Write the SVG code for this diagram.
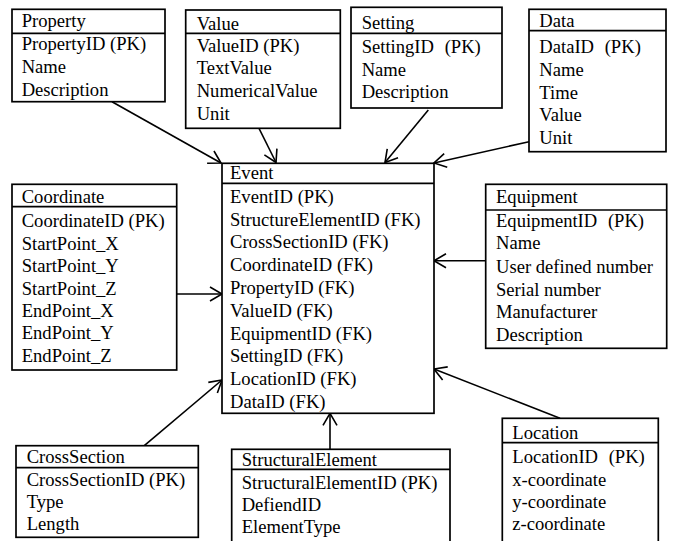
<svg xmlns="http://www.w3.org/2000/svg" width="678" height="541" viewBox="0 0 678 541">
  <style>
    .box { fill: #ffffff; stroke: #000000; stroke-width: 1.7; }
    .link { stroke: #000000; stroke-width: 1.6; fill: none; marker-end: url(#open); }
  </style>
  <defs>
    <marker id="open" markerUnits="userSpaceOnUse" markerWidth="20" markerHeight="20" refX="0" refY="0" orient="auto" overflow="visible">
      <path d="M-12,-7 L0,0 L-12,7" fill="none" stroke="#000000" stroke-width="1.6"/>
    </marker>
  </defs>

  <rect width="678" height="541" fill="#ffffff"/>

  <!-- relationships: every foreign table points at Event -->
  <g id="connectors">
    <line class="link" x1="112" y1="101.7" x2="221" y2="163"/>
    <line class="link" x1="259" y1="128.3" x2="276" y2="162.5"/>
    <line class="link" x1="428.3" y1="110" x2="385" y2="162.5"/>
    <line class="link" x1="529" y1="141.7" x2="434" y2="163"/>
    <line class="link" x1="176.7" y1="294" x2="222" y2="294"/>
    <line class="link" x1="485.7" y1="260.7" x2="434" y2="260.7"/>
    <line class="link" x1="144.3" y1="445.7" x2="222" y2="380"/>
    <line class="link" x1="330" y1="449" x2="330" y2="413.3"/>
    <line class="link" x1="560" y1="418.3" x2="434" y2="369"/>
  </g>

  <g id="property">
    <rect class="box" x="12" y="9.3" width="153" height="92.4"/>
    <line class="box" x1="12" y1="33.3" x2="165" y2="33.3"/>
    <text style="font-family:'Liberation Serif',serif;font-size:18.6px" x="21.7" y="27.3">Property</text>
    <text style="font-family:'Liberation Serif',serif;font-size:18.6px" x="21.7" y="50">PropertyID (PK)</text>
    <text style="font-family:'Liberation Serif',serif;font-size:18.6px" x="21.7" y="73">Name</text>
    <text style="font-family:'Liberation Serif',serif;font-size:18.6px" x="21.7" y="96">Description</text>
  </g>

  <g id="value">
    <rect class="box" x="185.7" y="10" width="154.6" height="118.3"/>
    <line class="box" x1="185.7" y1="33.3" x2="340.3" y2="33.3"/>
    <text style="font-family:'Liberation Serif',serif;font-size:18.6px" x="196.7" y="29.5">Value</text>
    <text style="font-family:'Liberation Serif',serif;font-size:18.6px" x="196.7" y="51.7">ValueID (PK)</text>
    <text style="font-family:'Liberation Serif',serif;font-size:18.6px" x="196.7" y="74.3">TextValue</text>
    <text style="font-family:'Liberation Serif',serif;font-size:18.6px" x="196.7" y="97">NumericalValue</text>
    <text style="font-family:'Liberation Serif',serif;font-size:18.6px" x="196.7" y="120">Unit</text>
  </g>

  <g id="setting">
    <rect class="box" x="351" y="7.3" width="151" height="100.7"/>
    <line class="box" x1="351" y1="33.3" x2="502" y2="33.3"/>
    <text style="font-family:'Liberation Serif',serif;font-size:18.6px" x="361.7" y="29.3">Setting</text>
    <text style="font-family:'Liberation Serif',serif;font-size:18.6px" x="361.7" y="53.3">SettingID <tspan dx="6">(PK)</tspan></text>
    <text style="font-family:'Liberation Serif',serif;font-size:18.6px" x="361.7" y="76">Name</text>
    <text style="font-family:'Liberation Serif',serif;font-size:18.6px" x="361.7" y="98.3">Description</text>
  </g>

  <g id="data">
    <rect class="box" x="529" y="9.3" width="137" height="142.4"/>
    <line class="box" x1="529" y1="30.7" x2="666" y2="30.7"/>
    <text style="font-family:'Liberation Serif',serif;font-size:18.6px" x="539.3" y="27.3">Data</text>
    <text style="font-family:'Liberation Serif',serif;font-size:18.6px" x="539.3" y="53.3">DataID <tspan dx="6">(PK)</tspan></text>
    <text style="font-family:'Liberation Serif',serif;font-size:18.6px" x="539.3" y="76">Name</text>
    <text style="font-family:'Liberation Serif',serif;font-size:18.6px" x="539.3" y="99">Time</text>
    <text style="font-family:'Liberation Serif',serif;font-size:18.6px" x="539.3" y="121">Value</text>
    <text style="font-family:'Liberation Serif',serif;font-size:18.6px" x="539.3" y="143.5">Unit</text>
  </g>

  <g id="event">
    <rect class="box" x="222" y="163.3" width="212" height="250"/>
    <line class="box" x1="222" y1="183.3" x2="434" y2="183.3"/>
    <text style="font-family:'Liberation Serif',serif;font-size:18.6px" x="230" y="179.3">Event</text>
    <text style="font-family:'Liberation Serif',serif;font-size:18.6px" x="230" y="202.7">EventID (PK)</text>
    <text style="font-family:'Liberation Serif',serif;font-size:18.6px" x="230" y="225.5">StructureElementID (FK)</text>
    <text style="font-family:'Liberation Serif',serif;font-size:18.6px" x="230" y="248.3">CrossSectionID (FK)</text>
    <text style="font-family:'Liberation Serif',serif;font-size:18.6px" x="230" y="271.1">CoordinateID (FK)</text>
    <text style="font-family:'Liberation Serif',serif;font-size:18.6px" x="230" y="293.9">PropertyID (FK)</text>
    <text style="font-family:'Liberation Serif',serif;font-size:18.6px" x="230" y="316.7">ValueID (FK)</text>
    <text style="font-family:'Liberation Serif',serif;font-size:18.6px" x="230" y="339.5">EquipmentID (FK)</text>
    <text style="font-family:'Liberation Serif',serif;font-size:18.6px" x="230" y="362.3">SettingID (FK)</text>
    <text style="font-family:'Liberation Serif',serif;font-size:18.6px" x="230" y="385.1">LocationID (FK)</text>
    <text style="font-family:'Liberation Serif',serif;font-size:18.6px" x="230" y="407.9">DataID (FK)</text>
  </g>

  <g id="coordinate">
    <rect class="box" x="12" y="184.3" width="164.7" height="185.7"/>
    <line class="box" x1="12" y1="206.7" x2="176.7" y2="206.7"/>
    <text style="font-family:'Liberation Serif',serif;font-size:18.6px" x="21.7" y="203.3">Coordinate</text>
    <text style="font-family:'Liberation Serif',serif;font-size:18.6px" x="21.7" y="227">CoordinateID (PK)</text>
    <text style="font-family:'Liberation Serif',serif;font-size:18.6px" x="21.7" y="249.5">StartPoint_X</text>
    <text style="font-family:'Liberation Serif',serif;font-size:18.6px" x="21.7" y="272">StartPoint_Y</text>
    <text style="font-family:'Liberation Serif',serif;font-size:18.6px" x="21.7" y="294.5">StartPoint_Z</text>
    <text style="font-family:'Liberation Serif',serif;font-size:18.6px" x="21.7" y="317">EndPoint_X</text>
    <text style="font-family:'Liberation Serif',serif;font-size:18.6px" x="21.7" y="339.3">EndPoint_Y</text>
    <text style="font-family:'Liberation Serif',serif;font-size:18.6px" x="21.7" y="362">EndPoint_Z</text>
  </g>

  <g id="equipment">
    <rect class="box" x="485.7" y="184.3" width="181" height="164"/>
    <line class="box" x1="485.7" y1="210" x2="666.7" y2="210"/>
    <text style="font-family:'Liberation Serif',serif;font-size:18.6px" x="496" y="203.3">Equipment</text>
    <text style="font-family:'Liberation Serif',serif;font-size:18.6px" x="496" y="226.7">EquipmentID <tspan dx="6">(PK)</tspan></text>
    <text style="font-family:'Liberation Serif',serif;font-size:18.6px" x="496" y="249.3">Name</text>
    <text style="font-family:'Liberation Serif',serif;font-size:18.6px" x="496" y="272.7">User defined number</text>
    <text style="font-family:'Liberation Serif',serif;font-size:18.6px" x="496" y="295.5">Serial number</text>
    <text style="font-family:'Liberation Serif',serif;font-size:18.6px" x="496" y="318.3">Manufacturer</text>
    <text style="font-family:'Liberation Serif',serif;font-size:18.6px" x="496" y="340.7">Description</text>
  </g>

  <g id="crosssection">
    <rect class="box" x="16" y="445.7" width="182.3" height="91.6"/>
    <line class="box" x1="16" y1="467.7" x2="198.3" y2="467.7"/>
    <text style="font-family:'Liberation Serif',serif;font-size:18.6px" x="26.7" y="463.3">CrossSection</text>
    <text style="font-family:'Liberation Serif',serif;font-size:18.6px" x="26.7" y="486">CrossSectionID (PK)</text>
    <text style="font-family:'Liberation Serif',serif;font-size:18.6px" x="26.7" y="508">Type</text>
    <text style="font-family:'Liberation Serif',serif;font-size:18.6px" x="26.7" y="530">Length</text>
  </g>

  <g id="structuralelement">
    <rect class="box" x="231.7" y="449.3" width="218.3" height="100"/>
    <line class="box" x1="231.7" y1="469.3" x2="450" y2="469.3"/>
    <text style="font-family:'Liberation Serif',serif;font-size:18.6px" x="241.7" y="466">StructuralElement</text>
    <text style="font-family:'Liberation Serif',serif;font-size:18.6px" x="241.7" y="488.5">StructuralElementID (PK)</text>
    <text style="font-family:'Liberation Serif',serif;font-size:18.6px" x="241.7" y="510.7">DefiendID</text>
    <text style="font-family:'Liberation Serif',serif;font-size:18.6px" x="241.7" y="532.7">ElementType</text>
  </g>

  <g id="location">
    <rect class="box" x="502.3" y="418.3" width="156" height="130"/>
    <line class="box" x1="502.3" y1="442.7" x2="658.3" y2="442.7"/>
    <text style="font-family:'Liberation Serif',serif;font-size:18.6px" x="512.3" y="438.5">Location</text>
    <text style="font-family:'Liberation Serif',serif;font-size:18.6px" x="512.3" y="463.3">LocationID <tspan dx="6">(PK)</tspan></text>
    <text style="font-family:'Liberation Serif',serif;font-size:18.6px" x="512.3" y="486">x-coordinate</text>
    <text style="font-family:'Liberation Serif',serif;font-size:18.6px" x="512.3" y="508.3">y-coordinate</text>
    <text style="font-family:'Liberation Serif',serif;font-size:18.6px" x="512.3" y="530">z-coordinate</text>
  </g>
</svg>
